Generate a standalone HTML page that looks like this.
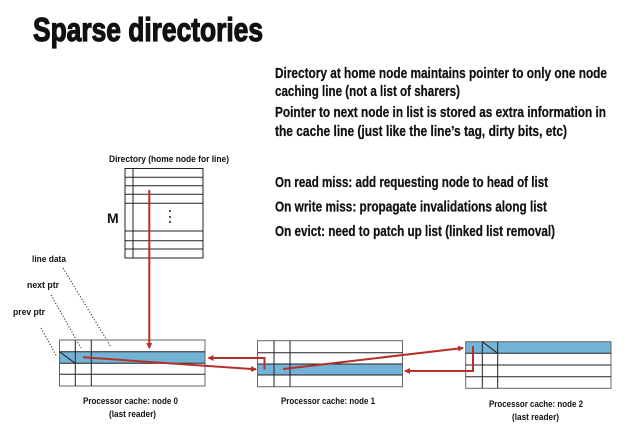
<!DOCTYPE html>
<html><head><meta charset="utf-8"><style>
html,body{margin:0;padding:0;background:#fff;}
svg{display:block;}
text{font-family:"Liberation Sans",sans-serif;font-weight:bold;fill:#111;}
</style></head><body>
<svg width="638" height="437" viewBox="0 0 638 437" xmlns="http://www.w3.org/2000/svg">
<defs>
<marker id="ah" markerWidth="6" markerHeight="6" refX="5" refY="3" orient="auto" markerUnits="userSpaceOnUse">
<path d="M0,0 L6,3 L0,6 Z" fill="#b5302a"/>
</marker>
</defs>
<text x="33" y="41" font-size="33" textLength="230" lengthAdjust="spacingAndGlyphs" stroke="#111" stroke-width="1.2">Sparse directories</text>

<g font-size="15" stroke="#111" stroke-width="0.25">
<text x="275" y="78" textLength="332" lengthAdjust="spacingAndGlyphs">Directory at home node maintains pointer to only one node</text>
<text x="275" y="96" textLength="185" lengthAdjust="spacingAndGlyphs">caching line (not a list of sharers)</text>
<text x="275" y="117" textLength="331" lengthAdjust="spacingAndGlyphs">Pointer to next node in list is stored as extra information in</text>
<text x="275" y="136" textLength="292" lengthAdjust="spacingAndGlyphs">the cache line  (just like the line’s tag, dirty bits, etc)</text>
<text x="275" y="187" textLength="273" lengthAdjust="spacingAndGlyphs">On read miss: add requesting node to head of list</text>
<text x="275" y="211.5" textLength="272" lengthAdjust="spacingAndGlyphs">On write miss: propagate invalidations along list</text>
<text x="275" y="236" textLength="280" lengthAdjust="spacingAndGlyphs">On evict: need to patch up list (linked list removal)</text>
</g>

<text x="109" y="162" font-size="9.5" textLength="120" lengthAdjust="spacingAndGlyphs">Directory (home node for line)</text>
<text x="107" y="223" font-size="14">M</text>

<!-- directory table -->
<g stroke="#222" stroke-width="1" fill="none">
<rect x="125" y="168.5" width="78" height="89.5"/>
<line x1="133" y1="168.5" x2="133" y2="258"/>
<line x1="125" y1="177.3" x2="203" y2="177.3"/>
<line x1="125" y1="185.7" x2="203" y2="185.7"/>
<line x1="125" y1="194.3" x2="203" y2="194.3"/>
<line x1="125" y1="203.3" x2="203" y2="203.3"/>
<line x1="125" y1="231" x2="203" y2="231"/>
<line x1="125" y1="240.7" x2="203" y2="240.7"/>
<line x1="125" y1="249" x2="203" y2="249"/>
</g>
<g fill="#222">
<circle cx="170" cy="211" r="1"/>
<circle cx="170" cy="217" r="1"/>
<circle cx="170" cy="222" r="1"/>
</g>

<!-- small labels -->
<g font-size="9.5">
<text x="32" y="262" textLength="34" lengthAdjust="spacingAndGlyphs">line data</text>
<text x="27" y="288" textLength="32" lengthAdjust="spacingAndGlyphs">next ptr</text>
<text x="13" y="315" textLength="32" lengthAdjust="spacingAndGlyphs">prev ptr</text>
</g>
<g stroke="#222" stroke-width="1" stroke-dasharray="1.2,1.8" fill="none">
<line x1="63" y1="268" x2="111" y2="347"/>
<line x1="51" y1="295" x2="81" y2="348"/>
<line x1="41" y1="328" x2="57" y2="357"/>
</g>

<!-- node 0 -->
<rect x="59.5" y="351.7" width="145.5" height="11.6" fill="#72b3d6"/>
<g stroke="#222" stroke-width="1" fill="none">
<rect x="59.5" y="340" width="145.5" height="46" stroke="#666"/>
<line x1="59.5" y1="351.7" x2="205" y2="351.7"/>
<line x1="59.5" y1="363.3" x2="205" y2="363.3"/>
<line x1="59.5" y1="374.3" x2="205" y2="374.3"/>
<line x1="75.3" y1="340" x2="75.3" y2="386"/>
<line x1="91.3" y1="340" x2="91.3" y2="386"/>
<line x1="59.5" y1="351.7" x2="75.3" y2="363.3"/>
</g>
<text x="83" y="404" font-size="9.5" textLength="95" lengthAdjust="spacingAndGlyphs">Processor cache: node 0</text>
<text x="109" y="417" font-size="9.5" textLength="47" lengthAdjust="spacingAndGlyphs">(last reader)</text>

<!-- node 1 -->
<rect x="257.5" y="364" width="145" height="11" fill="#72b3d6"/>
<g stroke="#222" stroke-width="1" fill="none">
<rect x="257.5" y="340.7" width="145" height="46" stroke="#666"/>
<line x1="257.5" y1="352.7" x2="402.5" y2="352.7"/>
<line x1="257.5" y1="364" x2="402.5" y2="364"/>
<line x1="257.5" y1="375" x2="402.5" y2="375"/>
<line x1="274" y1="340.7" x2="274" y2="386.7"/>
<line x1="290" y1="340.7" x2="290" y2="386.7"/>
</g>
<text x="281" y="404" font-size="9.5" textLength="94" lengthAdjust="spacingAndGlyphs">Processor cache: node 1</text>

<!-- node 2 -->
<rect x="465.7" y="341.7" width="145.3" height="11.6" fill="#72b3d6"/>
<g stroke="#222" stroke-width="1" fill="none">
<rect x="465.7" y="341.7" width="145.3" height="46.6" stroke="#666"/>
<line x1="465.7" y1="353.3" x2="611" y2="353.3"/>
<line x1="465.7" y1="365" x2="611" y2="365"/>
<line x1="465.7" y1="376.7" x2="611" y2="376.7"/>
<line x1="482.3" y1="341.7" x2="482.3" y2="388.3"/>
<line x1="497.7" y1="341.7" x2="497.7" y2="388.3"/>
<line x1="482.3" y1="341.7" x2="497.7" y2="353.3"/>
</g>
<text x="489" y="407" font-size="9.5" textLength="94" lengthAdjust="spacingAndGlyphs">Processor cache: node 2</text>
<text x="512" y="420" font-size="9.5" textLength="47" lengthAdjust="spacingAndGlyphs">(last reader)</text>

<!-- red arrows -->
<g stroke="#b5302a" stroke-width="2" fill="none">
<line x1="149.3" y1="190" x2="149.3" y2="348" marker-end="url(#ah)"/>
<line x1="83" y1="357.3" x2="256" y2="369.3" marker-end="url(#ah)"/>
<polyline points="264.5,369.5 264.5,358 208.5,358" marker-end="url(#ah)"/>
<line x1="283" y1="369" x2="463" y2="348" marker-end="url(#ah)"/>
<polyline points="473,346 473,371 405,371" marker-end="url(#ah)"/>
</g>
</svg>
</body></html>
